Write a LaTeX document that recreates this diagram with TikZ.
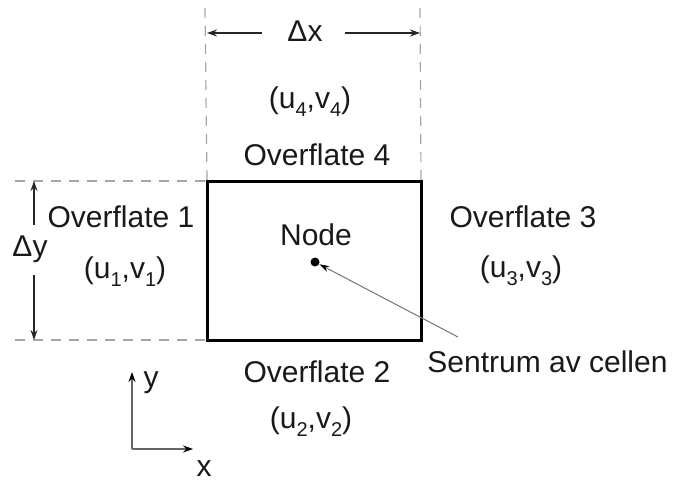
\documentclass[tikz,border=0pt]{standalone}
\usepackage{fontspec}
\setmainfont{Liberation Sans}
\usetikzlibrary{arrows.meta}
\newcommand{\sbs}[1]{\raisebox{-4pt}{\fontsize{10pt}{12pt}\selectfont #1}}
\begin{document}
\begin{tikzpicture}[x=0.5pt,y=-0.5pt,
  lbl/.style={inner sep=0pt,anchor=base,font=\fontsize{15pt}{18pt}\selectfont,text=black!90},
  dim/.style={draw=black!85,line width=0.7pt,-{Stealth[length=5pt,width=3.5pt]}},
  guide/.style={draw=black!35,line width=0.6pt,dash pattern=on 5pt off 4pt},
  cellbox/.style={draw=black,line width=1.5pt,inner sep=0pt,outer sep=0pt,minimum width=107pt,minimum height=79.5pt},
  leader/.style={draw=black!55,line width=0.5pt,-{Stealth[length=5pt,width=3pt,black]}},
  axis/.style={draw=black!60,line width=0.6pt,-{Stealth[length=5pt,width=3.5pt,black]}}]
\useasboundingbox (0,0) rectangle (673,481);
% cell
\node (cell) [cellbox] at (314,260.5) {};
% guides
\coordinate (gtl) at (205,8);
\coordinate (gtr) at (420,8);
\coordinate (glt) at (15,181);
\coordinate (glb) at (15,340);
\draw[guide] (gtl) -- (cell.north west);
\draw[guide] (gtr) -- (cell.north east);
\draw[guide] (glt) -- (cell.north west);
\draw[guide] (glb) -- (cell.south west);
% delta x
\node (dx) [lbl] at (305,42) {Δx};
\coordinate (dxL) at (207,33);
\coordinate (dxR) at (420,33);
\coordinate (dxa) at (262,33);
\coordinate (dxb) at (345,33);
\draw[dim] (dxa) -- (dxL);
\draw[dim] (dxb) -- (dxR);
% delta y
\node (dy) [lbl] at (30,256) {Δy};
\coordinate (dyT) at (34,181);
\coordinate (dyB) at (34,340);
\coordinate (dya) at (34,225);
\coordinate (dyb) at (34,275);
\draw[dim] (dya) -- (dyT);
\draw[dim] (dyb) -- (dyB);
% labels
\node (uv4) [lbl] at (310,108) {(u\sbs{4},v\sbs{4})};
\node (of4) [lbl] at (317,165) {Overflate 4};
\node (of1) [lbl] at (121,227) {Overflate 1};
\node (uv1) [lbl] at (125,278) {(u\sbs{1},v\sbs{1})};
\node (of3) [lbl] at (523,227) {Overflate 3};
\node (uv3) [lbl] at (521,277) {(u\sbs{3},v\sbs{3})};
\node (of2) [lbl] at (317,382) {Overflate 2};
\node (uv2) [lbl] at (311,428) {(u\sbs{2},v\sbs{2})};
\node (nd) [lbl] at (316,245) {Node};
\node (dot) [circle,fill=black,inner sep=0pt,minimum size=4.5pt] at (315,262) {};
\node (sc) [lbl,anchor=base west] at (427,372) {Sentrum av cellen};
\coordinate (ld) at (458,337);
\draw[leader] (ld) -- (dot);
% axes
\coordinate (O) at (132,449);
\coordinate (Oy) at (132,372);
\coordinate (Ox) at (193,449);
\draw[axis] (O) -- (Oy);
\draw[axis] (O) -- (Ox);
\node (ylab) [lbl] at (151,387) {y};
\node (xlab) [lbl] at (204,476) {x};
\end{tikzpicture}
\end{document}
